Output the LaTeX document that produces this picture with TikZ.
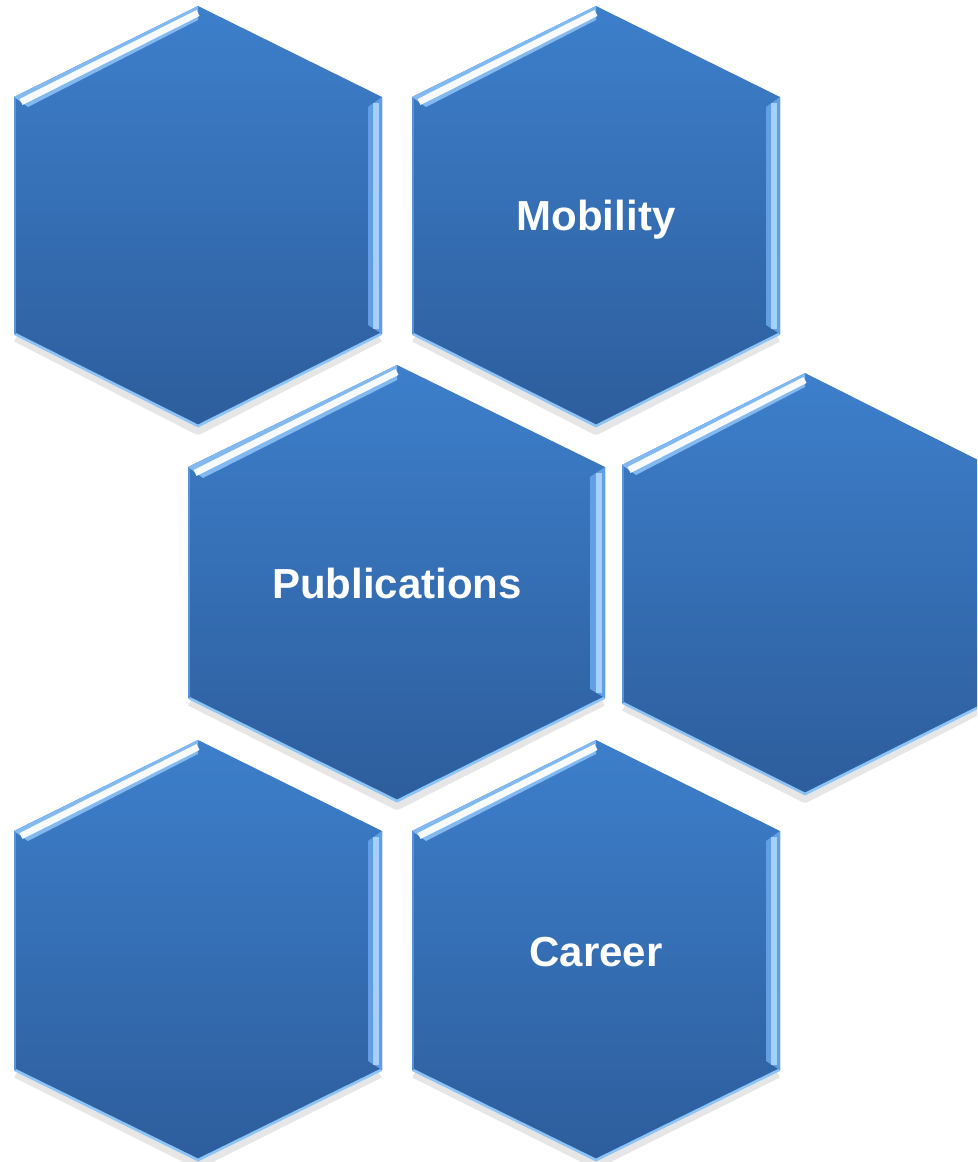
\documentclass[tikz,border=0pt]{standalone}
\usepackage{fontspec}
\setmainfont{Liberation Sans}

\definecolor{hexTop}{RGB}{61,127,203}
\definecolor{hexBot}{RGB}{45,93,156}
\definecolor{bevelTop}{RGB}{130,185,240}
\definecolor{bevelSide}{RGB}{98,158,228}
\definecolor{glintSide}{RGB}{165,208,252}
\definecolor{rimLight}{RGB}{140,196,248}
\definecolor{rimLeft}{RGB}{88,148,220}

\tikzset{every picture/.style={line width=0.75pt}}
\tikzset{
  hexfill/.style={top color=hexTop, bottom color=hexBot, draw=none},
  hexshadow/.style={draw=black!60, draw opacity=0.16, line width=6, line join=round},
  bevelhi/.style={fill=bevelTop, draw=none},
  bevelglint/.style={draw=white, line width=5, draw opacity=0.95},
  bevelside/.style={fill=bevelSide, draw=none},
  sideglint/.style={draw=glintSide, line width=5},
  rimline/.style={draw=rimLight, line width=2},
  leftline/.style={draw=rimLeft, line width=2},
  hexlabel/.style={text=white, font=\fontsize{31.5}{38}\selectfont\bfseries, anchor=base}
}

\begin{document}
\begin{tikzpicture}[x=0.75pt,y=0.75pt,yscale=-1,xscale=1]
	\useasboundingbox (0,0) rectangle (977,1162);
	\clip (0,0) rectangle (977,1162);

	%Shape: Hexagon top left
	\draw [hexshadow] (16,338) -- (198,431) -- (380,338) ;
	\path [hexfill] (198,6) -- (382,97) -- (382,334) -- (198,427) -- (14,334) -- (14,97) -- cycle ;
	\fill [bevelhi] (14,97) -- (198,6) -- (198,20) -- (28,107) -- cycle ;
	\draw [bevelglint] (21,102) -- (198,13) ;
	\fill [bevelside] (382,97) -- (382,334) -- (368,325) -- (368,107) -- cycle ;
	\draw [sideglint] (376,103) -- (376,329) ;
	\draw [rimline] (15,334) -- (198,426) -- (381,334) ;
	\draw [leftline] (15,98) -- (15,334) ;

	%Shape: Hexagon top right
	\draw [hexshadow] (414,338) -- (596,431) -- (778,338) ;
	\path [hexfill] (596,6) -- (780,97) -- (780,334) -- (596,427) -- (412,334) -- (412,97) -- cycle ;
	\fill [bevelhi] (412,97) -- (596,6) -- (596,20) -- (426,107) -- cycle ;
	\draw [bevelglint] (419,102) -- (596,13) ;
	\fill [bevelside] (780,97) -- (780,334) -- (766,325) -- (766,107) -- cycle ;
	\draw [sideglint] (774,103) -- (774,329) ;
	\draw [rimline] (413,334) -- (596,426) -- (779,334) ;
	\draw [leftline] (413,98) -- (413,334) ;

	%Shape: Hexagon middle
	\draw [hexshadow] (190,702) -- (397,806) -- (603,702) ;
	\path [hexfill] (397,365) -- (605,467) -- (605,698) -- (397,802) -- (188,698) -- (188,467) -- cycle ;
	\fill [bevelhi] (188,467) -- (397,365) -- (397,380) -- (203,478) -- cycle ;
	\draw [bevelglint] (195,473) -- (397,372) ;
	\fill [bevelside] (605,467) -- (605,698) -- (590,689) -- (590,477) -- cycle ;
	\draw [sideglint] (599,473) -- (599,693) ;
	\draw [rimline] (189,698) -- (397,801) -- (604,698) ;
	\draw [leftline] (189,468) -- (189,698) ;

	%Shape: Hexagon middle right
	\draw [hexshadow] (624,707) -- (805,799) -- (986,707) ;
	\path [hexfill] (805,373) -- (988,465) -- (988,703) -- (805,795) -- (622,703) -- (622,465) -- cycle ;
	\fill [bevelhi] (622,465) -- (805,373) -- (805,387) -- (636,475) -- cycle ;
	\draw [bevelglint] (629,470) -- (805,380) ;
	\draw [rimline] (623,703) -- (805,794) -- (987,703) ;
	\draw [leftline] (623,466) -- (623,703) ;

	%Shape: Hexagon bottom left
	\draw [hexshadow] (16,1074) -- (198,1165) -- (380,1074) ;
	\path [hexfill] (198,740) -- (382,831) -- (382,1070) -- (198,1161) -- (14,1070) -- (14,831) -- cycle ;
	\fill [bevelhi] (14,831) -- (198,740) -- (198,754) -- (28,841) -- cycle ;
	\draw [bevelglint] (21,836) -- (198,747) ;
	\fill [bevelside] (382,831) -- (382,1070) -- (368,1061) -- (368,841) -- cycle ;
	\draw [sideglint] (376,837) -- (376,1065) ;
	\draw [rimline] (15,1070) -- (198,1160) -- (381,1070) ;
	\draw [leftline] (15,832) -- (15,1070) ;

	%Shape: Hexagon bottom right
	\draw [hexshadow] (414,1074) -- (596,1165) -- (778,1074) ;
	\path [hexfill] (596,740) -- (780,831) -- (780,1070) -- (596,1161) -- (412,1070) -- (412,831) -- cycle ;
	\fill [bevelhi] (412,831) -- (596,740) -- (596,754) -- (426,841) -- cycle ;
	\draw [bevelglint] (419,836) -- (596,747) ;
	\fill [bevelside] (780,831) -- (780,1070) -- (766,1061) -- (766,841) -- cycle ;
	\draw [sideglint] (774,837) -- (774,1065) ;
	\draw [rimline] (413,1070) -- (596,1160) -- (779,1070) ;
	\draw [leftline] (413,832) -- (413,1070) ;

	% Text Node
	\node [hexlabel] (mobility) at (596,231) {Mobility};
	% Text Node
	\node [hexlabel] (publications) at (397,598) {Publications};
	% Text Node
	\node [hexlabel] (career) at (596,966) {Career};

\end{tikzpicture}
\end{document}
